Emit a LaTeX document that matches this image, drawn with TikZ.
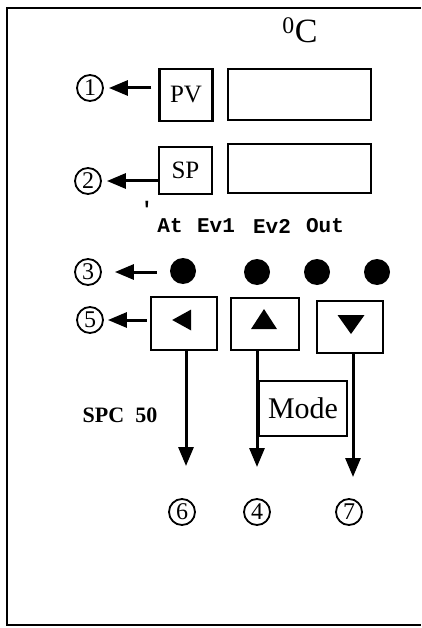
\documentclass[tikz,border=0pt]{standalone}
\usepackage{fontspec}
\setmainfont{Liberation Serif}
\newfontfamily\ledfont{Liberation Mono}
\usetikzlibrary{arrows.meta,positioning,shapes.geometric}

\begin{document}
\begin{tikzpicture}[x=1pt, y=-1pt,
    key/.style={rectangle, draw, line width=2.4pt, minimum width=53pt, minimum height=50pt, inner sep=0pt, font=\fontsize{25}{25}\selectfont},
    disp/.style={rectangle, draw, line width=2.4pt, minimum width=143pt, minimum height=50pt},
    btn/.style={rectangle, draw, line width=2.4pt, minimum width=66pt, minimum height=53pt},
    led/.style={circle, fill=black, minimum size=26pt, inner sep=0pt},
    num/.style={circle, draw, line width=1.8pt, minimum size=26pt, inner sep=0pt, font=\fontsize{24}{24}\selectfont},
    tri/.style={isosceles triangle, isosceles triangle stretches, fill=black, inner sep=0pt},
    tag/.style={font=\ledfont\bfseries\fontsize{21}{21}\selectfont},
    arr/.style={-{Triangle[length=19pt, width=15pt]}, line width=3pt}
]
    \useasboundingbox (0,0) rectangle (421,628);

    % Frame
    \draw[line width=2.4pt] (421,8) -- (7,8) -- (7,625) -- (421,625);

    % Displays
    \node[font=\fontsize{34}{34}\selectfont] (unit) at (300,30) {\textsuperscript{0}C};
    \node[key, minimum height=52pt] (pv) at (186,95) {PV};
    \node[disp, minimum height=51pt] (pvdisp) at (299.5,94.5) {};
    \node[key, minimum height=47pt] (sp) at (185.5,170.5) {SP};
    \node[disp, minimum height=49pt] (spdisp) at (299.5,168.5) {};

    % LED labels
    \node[tag] (tick) at (147,209) {'};
    \node[tag] (at) at (170,226) {At};
    \node[tag] (ev1) at (216,226) {Ev1};
    \node[tag] (ev2) at (272,226) {Ev2};
    \node[tag] (out) at (325,226) {Out};

    % LEDs
    \node[led] (led1) at (183,271) {};
    \node[led] (led2) at (257,272) {};
    \node[led] (led3) at (317,272) {};
    \node[led] (led4) at (377,272) {};

    % Buttons
    \node[btn] (btnleft) at (184,323.5) {};
    \node[btn, minimum width=68pt, minimum height=52pt] (btnup) at (265,324) {};
    \node[btn, minimum height=52pt] (btndown) at (350,327) {};
    \node[tri, shape border rotate=180, minimum height=19pt, minimum width=21pt] (tleft) at (185,320) {};
    \node[tri, shape border rotate=90, minimum height=20pt, minimum width=26pt] (tup) at (264,322) {};
    \node[tri, shape border rotate=270, minimum height=19pt, minimum width=27pt] (tdown) at (351,322) {};
    \node[btn, minimum width=88pt, minimum height=55pt, font=\fontsize{30}{30}\selectfont] (mode) at (303,408.5) {Mode};
    \node[font=\bfseries\fontsize{22}{22}\selectfont] (model) at (120,415) {SPC\ \ 50};

    % Numbers
    \node[num] (n1) at (90,88) {1};
    \node[num] (n2) at (88,181) {2};
    \node[num] (n3) at (88,272) {3};
    \node[num] (n5) at (90,320) {5};
    \node[num] (n6) at (182,512) {6};
    \node[num] (n4) at (257,512) {4};
    \node[num] (n7) at (349,512) {7};

    % Arrows
    \draw[arr, shorten <=7pt, shorten >=5pt] (pv.west |- n1) -- (n1.east);
    \draw[arr, shorten >=5pt] (sp.west |- n2) -- (n2.east);
    \draw[arr, shorten <=13pt, shorten >=13pt] (led1.west |- n3) -- (n3.east);
    \draw[arr, shorten <=3pt, shorten >=4pt] (btnleft.west |- n5) -- (n5.east);

    \coordinate (e6) at (186,466);
    \coordinate (e4) at (257,467);
    \coordinate (e7) at (353,477);
    \draw[arr] (btnleft.south -| e6) -- (e6);
    \draw[arr] (btnup.south -| e4) -- (e4);
    \draw[arr] (btndown.south -| e7) -- (e7);

\end{tikzpicture}
\end{document}
